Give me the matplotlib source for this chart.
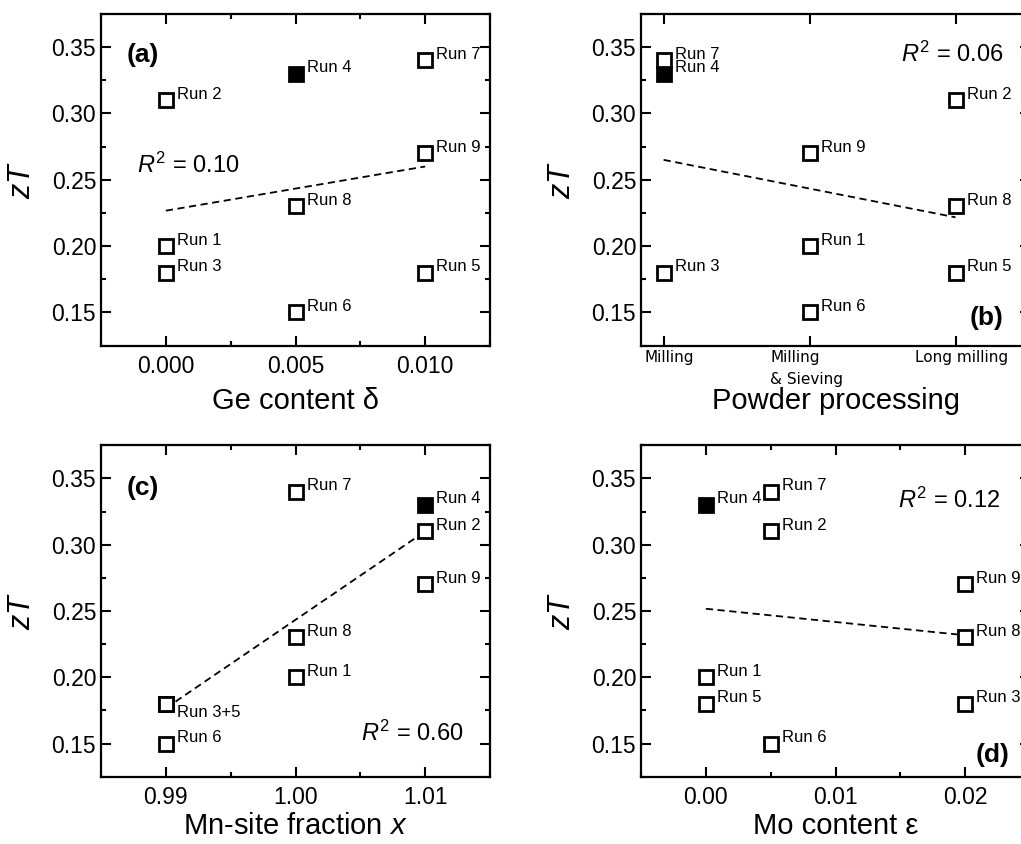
import numpy as np
import matplotlib
matplotlib.use('Agg')
import matplotlib.pyplot as plt
from matplotlib.ticker import MultipleLocator, FormatStrFormatter, FixedLocator
from matplotlib.transforms import ScaledTranslation

plt.rcParams['font.family'] = ['Liberation Sans', 'DejaVu Sans']
plt.rcParams['mathtext.fontset'] = 'custom'
plt.rcParams['mathtext.rm'] = 'Liberation Sans'
plt.rcParams['mathtext.it'] = 'Liberation Sans:italic'
plt.rcParams['axes.linewidth'] = 1.6

# data, one entry per run (Run 1 .. Run 9)
runs = ['Run 1', 'Run 2', 'Run 3', 'Run 4', 'Run 5', 'Run 6', 'Run 7', 'Run 8', 'Run 9']
zt = [0.20, 0.31, 0.18, 0.33, 0.18, 0.15, 0.34, 0.23, 0.27]
ge_content = [0.000, 0.000, 0.000, 0.005, 0.010, 0.005, 0.010, 0.005, 0.010]
processing = [1, 2, 0, 0, 2, 1, 0, 2, 1]
processing_labels = ['Milling', 'Milling\n& Sieving', 'Long milling']
mn_fraction = [1.00, 1.01, 0.99, 1.01, 0.99, 0.99, 1.00, 1.00, 1.01]
mo_content = [0.000, 0.005, 0.020, 0.000, 0.000, 0.005, 0.005, 0.020, 0.020]
r2_values = ['0.10', '0.06', '0.60', '0.12']
best_run = 'Run 4'

fig = plt.figure(figsize=(10.21, 8.44), dpi=100)
W, H = 1021.0, 844.0
ax_w, ax_h = 389 / W, 331.5 / H


def draw_panel(ax, x, xlim, xmajor, xminor, xfmt, xlabel, label_y, tag, tag_pos, r2, r2_pos,
               overrides=None):
    overrides = overrides or {}
    x = np.asarray(x, float)
    y = np.asarray(zt)

    # linear fit through all runs
    slope, icpt = np.polyfit(x, y, 1)
    xf = np.array([x.min(), x.max()])
    ax.plot(xf, slope * xf + icpt, ls=(0, (4, 2.5)), color='k', lw=1.3, zorder=1)

    for i, run in enumerate(runs):
        filled = run == best_run
        ax.plot(x[i], y[i], 's', ms=10.5, mew=2, mec='k',
                mfc='k' if filled else 'white', zorder=3 if filled else 4)
        text, off, va = run, (8, 1), 'baseline'
        if run in overrides:
            if overrides[run] is None:
                continue
            text, off, va = overrides[run]
        ax.annotate(text, (x[i], y[i]), xytext=off, textcoords='offset points',
                    fontsize=12, va=va, ha='left', zorder=5)

    ax.set_xlim(*xlim)
    ax.set_ylim(0.125, 0.375)
    ax.yaxis.set_major_locator(MultipleLocator(0.05))
    ax.yaxis.set_minor_locator(MultipleLocator(0.025))
    ax.yaxis.set_major_formatter(FormatStrFormatter('%.2f'))
    ax.xaxis.set_major_locator(FixedLocator(xmajor))
    if xminor:
        ax.xaxis.set_minor_locator(MultipleLocator(xminor))
    if xfmt:
        ax.xaxis.set_major_formatter(FormatStrFormatter(xfmt))
    ax.tick_params(which='both', direction='in', top=True, right=True, width=1.5,
                   labelsize=16.5)
    ax.tick_params(which='major', length=7)
    ax.tick_params(which='minor', length=3.5)
    ax.tick_params(axis='x', pad=7)

    ax.set_ylabel('$zT$', fontsize=22)
    ax.yaxis.set_label_coords(-0.165, 0.5)
    ax.set_xlabel(xlabel, fontsize=21)
    ax.xaxis.set_label_coords(0.5, label_y)

    ax.text(tag_pos[0], tag_pos[1], tag, transform=ax.transAxes, fontsize=19,
            fontweight='bold', ha='left', va='baseline')
    ax.text(r2_pos[0], r2_pos[1], '$R^2$ = ' + r2, transform=ax.transAxes,
            fontsize=17, ha='left', va='baseline')


ax_a = fig.add_axes([101 / W, 1 - 345.5 / H, ax_w, ax_h])
draw_panel(ax_a, ge_content, (-0.0025, 0.0125), [0.0, 0.005, 0.010], 0.0025, '%.3f',
           'Ge content δ', -0.125, '(a)', (0.067, 0.855), r2_values[0], (0.092, 0.52))

ax_b = fig.add_axes([641 / W, 1 - 345.5 / H, ax_w, ax_h])
draw_panel(ax_b, processing, (-0.155, 2.51), [0, 1, 2], None, None,
           'Powder processing', -0.125, '(b)', (0.846, 0.062), r2_values[1], (0.668, 0.856))
ax_b.set_xticklabels(processing_labels, fontsize=11, family='DejaVu Sans')
ax_b.tick_params(axis='x', pad=3)
for lbl in ax_b.get_xticklabels():
    lbl.set_multialignment('left')
    lbl.set_linespacing(1.6)
    lbl.set_transform(lbl.get_transform() + ScaledTranslation(4 / 72, 0, fig.dpi_scale_trans))
mid = ax_b.get_xticklabels()[1]
mid.set_transform(mid.get_transform() + ScaledTranslation(-6 / 72, 0, fig.dpi_scale_trans))

ax_c = fig.add_axes([101 / W, 1 - 776.7 / H, ax_w, ax_h])
draw_panel(ax_c, mn_fraction, (0.985, 1.015), [0.99, 1.00, 1.01], 0.005, '%.2f',
           'Mn-site fraction $x$', -0.105, '(c)', (0.067, 0.849), r2_values[2], (0.668, 0.108),
           overrides={'Run 3': ('Run 3+5', (8, -1), 'top'), 'Run 5': None})

ax_d = fig.add_axes([641 / W, 1 - 776.7 / H, ax_w, ax_h])
draw_panel(ax_d, mo_content, (-0.005, 0.025), [0.00, 0.01, 0.02], 0.005, '%.2f',
           'Mo content ε', -0.105, '(d)', (0.859, 0.045), r2_values[3], (0.661, 0.812))

fig.savefig('out.png', dpi=100)
